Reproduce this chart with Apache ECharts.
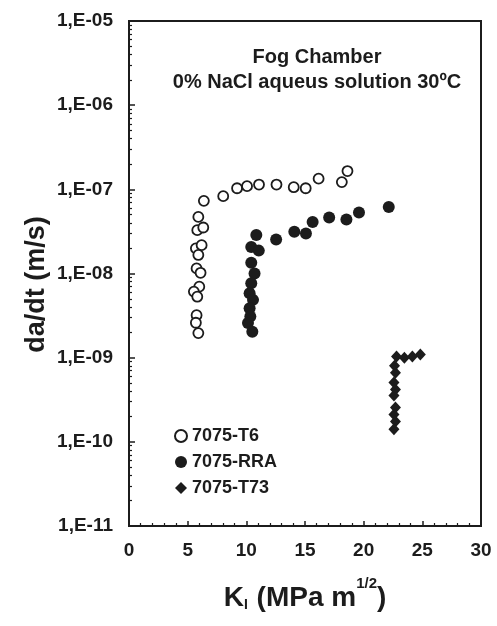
<!DOCTYPE html>
<html>
<head>
<meta charset="utf-8">
<script src="https://cdn.jsdelivr.net/npm/echarts@6/dist/echarts.min.js"></script>
<style>html,body{margin:0;padding:0;background:#fff;}#c{width:497px;height:626px;}</style>
</head>
<body>
<div id="c"></div>
<script>
// 7075-T6 (open circles): [K_I, da/dt]
var t6K = [6.38, 8.03, 9.21, 10.06, 11.08, 12.57, 14.04, 15.06, 16.16, 18.14, 18.62,
           5.91, 5.82, 6.33, 5.70, 6.19, 5.91, 5.76, 6.10, 5.99, 5.53, 5.82, 5.76, 5.70, 5.91];
var t6V = [7.3e-8, 8.3e-8, 1.03e-7, 1.09e-7, 1.14e-7, 1.14e-7, 1.06e-7, 1.03e-7, 1.34e-7, 1.22e-7, 1.65e-7,
           4.7e-8, 3.27e-8, 3.52e-8, 1.99e-8, 2.17e-8, 1.66e-8, 1.15e-8, 1.02e-8, 6.98e-9, 6.1e-9, 5.3e-9, 3.2e-9, 2.6e-9, 1.96e-9];
// 7075-RRA (filled circles)
var rraK = [10.85, 10.42, 11.06, 10.42, 10.70, 10.42, 10.28, 10.57, 10.28, 10.34, 10.14, 10.51,
            12.54, 14.09, 15.08, 15.65, 17.06, 18.53, 19.60, 22.14];
var rraV = [2.86e-8, 2.07e-8, 1.87e-8, 1.34e-8, 1.0e-8, 7.65e-9, 5.83e-9, 4.86e-9, 3.87e-9, 3.08e-9, 2.58e-9, 2.03e-9,
            2.54e-8, 3.13e-8, 2.99e-8, 4.1e-8, 4.62e-8, 4.37e-8, 5.3e-8, 6.18e-8];
// 7075-T73 (diamonds)
var t73K = [22.80, 23.47, 24.15, 24.83, 22.63, 22.71, 22.58, 22.71, 22.58, 22.71, 22.58, 22.71, 22.58];
var t73V = [1.03e-9, 1.0e-9, 1.03e-9, 1.09e-9, 8.0e-10, 6.6e-10, 5.06e-10, 4.18e-10, 3.55e-10, 2.56e-10, 2.11e-10, 1.75e-10, 1.41e-10];

var seriesNames = ['7075-T6', '7075-RRA', '7075-T73'];
var yDecades = [-11, -10, -9, -8, -7, -6, -5];
var titleLines = ['Fog Chamber', '0% NaCl aqueus solution 30ºC'];

function pairs(k, v) { return k.map(function (x, i) { return [x, v[i]]; }); }
function yFmt(v) {
  var e = Math.round(Math.log10(v));
  var s = String(Math.abs(e)); if (s.length < 2) s = '0' + s;
  return '1,E' + (e < 0 ? '-' : '+') + s;
}
// log-spaced minor tick positions (2..9 x 10^n) for the y axis
var yMinor = [];
for (var d = 0; d < yDecades.length - 1; d++) {
  for (var m = 2; m <= 9; m++) yMinor.push(m * Math.pow(10, yDecades[d]));
}

var INK = '#1c1c1c';
var FONT = '"Liberation Sans", Arial, Helvetica, sans-serif';

var chart = echarts.init(document.getElementById('c'), null, {renderer: 'canvas'});
chart.setOption({
  animation: false,
  backgroundColor: '#fff',
  textStyle: {fontFamily: FONT},
  title: {
    text: titleLines.join('\n'),
    left: 312, top: 40, textAlign: 'center',
    textStyle: {fontFamily: FONT, fontWeight: 'bold', fontSize: 20, lineHeight: 25, color: INK}
  },
  legend: {
    data: seriesNames,
    orient: 'vertical',
    left: 169, top: 422,
    itemWidth: 12, itemHeight: 12, itemGap: 8,
    textStyle: {fontFamily: FONT, fontWeight: 'bold', fontSize: 18, color: INK}
  },
  grid: {left: 129, right: 16, top: 21, bottom: 100, show: true, borderColor: INK, borderWidth: 2, backgroundColor: 'transparent'},
  xAxis: {
    type: 'value', min: 0, max: 30, interval: 5,
    name: '{k|K}{s|I}{k| (MPa m}{p|1/2}{k|)}',
    nameLocation: 'middle', nameGap: 58,
    nameTextStyle: {
      rich: {
        k: {fontFamily: FONT, fontWeight: 'bold', fontSize: 28, color: INK},
        s: {fontFamily: FONT, fontWeight: 'bold', fontSize: 14, color: INK, verticalAlign: 'bottom', padding: [0, 1, 0, 0]},
        p: {fontFamily: FONT, fontWeight: 'bold', fontSize: 15, color: INK, verticalAlign: 'top', padding: [-8, 0, 0, 0]}
      }
    },
    axisLine: {show: true, lineStyle: {color: INK, width: 2}},
    axisTick: {show: true, inside: true, length: 5, lineStyle: {color: INK, width: 1.5}},
    minorTick: {show: true, splitNumber: 5, length: 3, lineStyle: {color: INK, width: 1.2}},
    splitLine: {show: false},
    axisLabel: {margin: 15, fontFamily: FONT, fontWeight: 'bold', fontSize: 19, color: INK}
  },
  yAxis: [{
    type: 'log', logBase: 10, min: 1e-11, max: 1e-5,
    name: 'da/dt (m/s)', nameLocation: 'middle', nameGap: 79, nameRotate: 90, nameMoveOverlap: false,
    nameTextStyle: {fontFamily: FONT, fontWeight: 'bold', fontSize: 27, color: INK, padding: [0, 22, 0, 0]},
    axisLine: {show: true, lineStyle: {color: INK, width: 2}},
    axisTick: {show: true, inside: true, length: 6, lineStyle: {color: INK, width: 1.5}},
    minorTick: {show: false},
    splitLine: {show: false},
    axisLabel: {margin: 16, fontFamily: FONT, fontWeight: 'bold', fontSize: 19, color: INK, formatter: yFmt}
  }, {
    type: 'log', logBase: 10, min: 1e-11, max: 1e-5, position: 'left',
    axisLine: {show: false},
    axisTick: {show: true, inside: true, length: 3, customValues: yMinor, lineStyle: {color: INK, width: 1.2}},
    axisLabel: {show: false},
    splitLine: {show: false}
  }],
  series: [
    {name: seriesNames[0], type: 'scatter', data: pairs(t6K, t6V), symbol: 'circle', symbolSize: 10,
     itemStyle: {color: '#fff', borderColor: INK, borderWidth: 1.8, opacity: 1}},
    {name: seriesNames[1], type: 'scatter', data: pairs(rraK, rraV), symbol: 'circle', symbolSize: 12,
     itemStyle: {color: INK, opacity: 1}},
    {name: seriesNames[2], type: 'scatter', data: pairs(t73K, t73V), symbol: 'diamond', symbolSize: [11, 12],
     itemStyle: {color: INK, opacity: 1}}
  ]
});
</script>
</body>
</html>
